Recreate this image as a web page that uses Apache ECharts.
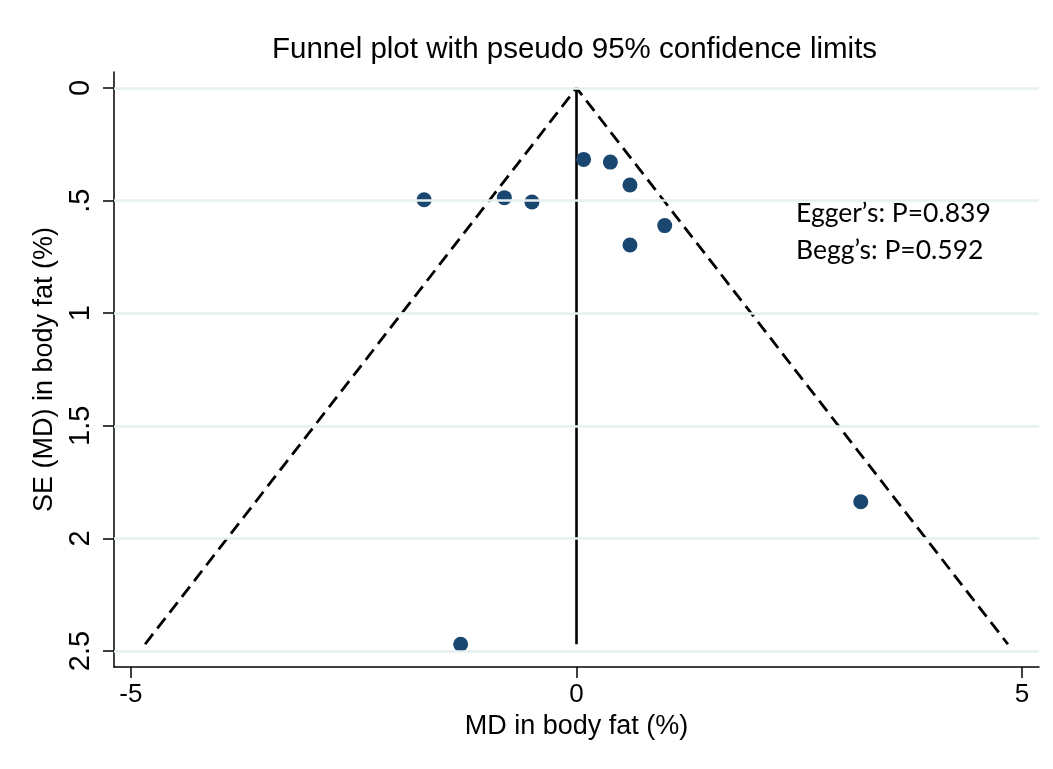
<!DOCTYPE html>
<html>
<head>
<meta charset="utf-8">
<script src="https://cdn.jsdelivr.net/npm/echarts@6/dist/echarts.min.js"></script>
<style>
  html, body { margin: 0; padding: 0; background: #ffffff; }
  #chart { width: 1053px; height: 769px; }
</style>
</head>
<body>
<div id="chart"></div>
<script>
// Study estimates: mean difference (MD) in body fat (%) and its standard error
const md = [-1.71, -0.81, -0.50, 0.08, 0.38, 0.60, 0.99, 0.60, 3.19, -1.30];
const se = [0.496, 0.487, 0.506, 0.317, 0.329, 0.431, 0.611, 0.697, 1.837, 2.470];

// Pooled estimate and pseudo 95% limit multiplier
const pooled = 0;
const z95 = 1.96;

// Tick labels
const xTicks = [-5, 0, 5];
const yTicks = [0, 0.5, 1, 1.5, 2, 2.5];

const titleText = 'Funnel plot with pseudo 95% confidence limits';
const xName = 'MD in body fat (%)';
const yName = 'SE (MD) in body fat (%)';
const testLines = ['Egger\u2019s: P=0.839', 'Begg\u2019s: P=0.592'];

const maxSE = Math.max.apply(null, se);
const funnel = [
  [pooled - z95 * maxSE, maxSE],
  [pooled, 0],
  [pooled + z95 * maxSE, maxSE]
];
const pooledLine = [[pooled, 0], [pooled, maxSE]];
const points = md.map((m, i) => [m, se[i]]);

const chart = echarts.init(document.getElementById('chart'), null, { renderer: 'canvas' });

const axisFont = 'Liberation Sans, Arial, Helvetica, sans-serif';
const noteFont = 'Lato, Carlito, Calibri, sans-serif';

chart.setOption({
  animation: false,
  backgroundColor: '#ffffff',
  title: {
    text: titleText,
    left: 267,
    top: 30,
    textStyle: { fontFamily: axisFont, fontSize: 29.5, fontWeight: 'normal', color: '#000' }
  },
  grid: { left: 114, right: 14, top: 72, bottom: 102, containLabel: false },
  xAxis: {
    type: 'value',
    min: -5.19,
    max: 5.19,
    name: xName,
    nameLocation: 'middle',
    nameGap: 44,
    nameTextStyle: { fontFamily: axisFont, fontSize: 27, color: '#000' },
    axisLine: { show: true, onZero: false, lineStyle: { color: '#000', width: 1.5 } },
    axisTick: { show: true, length: 11, customValues: xTicks, lineStyle: { color: '#000', width: 1.5 } },
    axisLabel: {
      customValues: xTicks,
      margin: 15,
      fontFamily: axisFont,
      fontSize: 26,
      color: '#000'
    },
    splitLine: { show: false }
  },
  yAxis: {
    type: 'value',
    inverse: true,
    min: -0.071,
    max: 2.571,
    name: yName,
    nameLocation: 'middle',
    nameGap: 44,
    nameRotate: 90,
    nameTextStyle: { fontFamily: axisFont, fontSize: 27, color: '#000' },
    axisLine: { show: true, onZero: false, lineStyle: { color: '#000', width: 1.5 } },
    axisTick: { show: true, length: 11, customValues: yTicks, lineStyle: { color: '#000', width: 1.5 } },
    axisLabel: {
      customValues: yTicks,
      rotate: 90,
      margin: 19,
      fontFamily: axisFont,
      fontSize: 29,
      color: '#000',
      formatter: v => v === 0 ? '0' : String(v).replace(/^0\./, '.')
    },
    splitLine: { show: false }
  },
  series: [
    {
      // horizontal grid lines at the labelled SE ticks
      type: 'line',
      data: [],
      z: 1,
      silent: true,
      markLine: {
        symbol: 'none',
        silent: true,
        label: { show: false },
        lineStyle: { color: '#e6eff1', width: 2.5, type: 'solid' },
        data: yTicks.map(v => ({ yAxis: v }))
      }
    },
    {
      // pseudo 95% confidence limits
      type: 'line',
      data: funnel,
      z: 3,
      symbol: 'none',
      silent: true,
      lineStyle: { color: '#000', width: 2.8, type: [13, 7] }
    },
    {
      // pooled estimate
      type: 'line',
      data: pooledLine,
      z: 3,
      symbol: 'none',
      silent: true,
      lineStyle: { color: '#000', width: 2.6 }
    },
    {
      type: 'scatter',
      data: points,
      z: 4,
      symbol: 'circle',
      symbolSize: 15,
      itemStyle: { color: '#1a476f', opacity: 1 }
    }
  ],
  graphic: [
    {
      type: 'group',
      left: 773,
      top: 186,
      z: 10,
      children: [
        { type: 'rect', shape: { x: 0, y: 0, width: 267, height: 86 }, style: { fill: '#ffffff' } },
        {
          type: 'text',
          x: 23,
          y: 27,
          style: { text: testLines[0], fontFamily: noteFont, fontSize: 26.5, fill: '#000', verticalAlign: 'middle' }
        },
        {
          type: 'text',
          x: 23,
          y: 64,
          style: { text: testLines[1], fontFamily: noteFont, fontSize: 26.5, fill: '#000', verticalAlign: 'middle' }
        }
      ]
    }
  ]
});
</script>
</body>
</html>
